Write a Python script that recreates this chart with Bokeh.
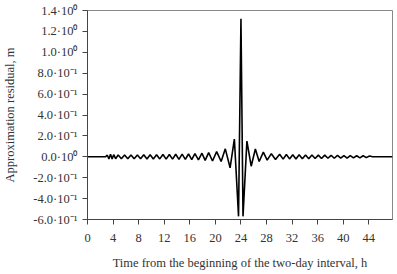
from bokeh.plotting import figure
from bokeh.models import FixedTicker, Range1d
from bokeh.embed import file_html
from bokeh.resources import INLINE

# Time (h) and approximation residual (m) (extrema of the curve)
time_h = [0, 2.8, 3.1, 3.35, 3.6, 3.85, 4.1, 4.4, 4.8, 5.3, 5.8, 6.3, 6.8, 7.3, 7.8, 8.3,
          8.8, 9.3, 9.8, 10.3, 10.8, 11.3, 11.8, 12.3, 12.8, 13.3, 13.8, 14.3, 14.8, 15.3,
          15.8, 16.3, 16.8, 17.35, 17.9, 18.4, 18.95, 19.55, 20.2, 20.9, 21.55, 22.3, 22.97,
          23.62, 24.0, 24.32, 24.93, 25.6, 26.25, 26.85, 27.5, 28.1, 28.75, 29.4, 30.05,
          30.6, 31.1, 31.6, 32.1, 32.6, 33.1, 33.6, 34.1, 34.6, 35.1, 35.6, 36.1, 36.6,
          37.1, 37.6, 38.1, 38.6, 39.1, 39.6, 40.1, 40.6, 41.1, 41.6, 42.1, 42.6, 43.1,
          43.6, 44.1, 44.6, 47.7]
resid_m = [0, 0, 0.015, -0.02, 0.025, -0.02, 0.02, -0.018, 0.018, -0.018, 0.018, -0.018,
           0.018, -0.018, 0.018, -0.018, 0.02, -0.02, 0.02, -0.02, 0.02, -0.02, 0.022,
           -0.022, 0.022, -0.022, 0.024, -0.024, 0.025, -0.025, 0.027, -0.027, 0.03, -0.03,
           0.034, -0.034, 0.04, -0.04, 0.05, -0.045, 0.076, -0.105, 0.17, -0.57, 1.32,
           -0.57, 0.15, -0.09, 0.075, -0.045, 0.045, -0.032, 0.03, -0.026, 0.025, -0.022,
           0.022, -0.02, 0.02, -0.02, 0.02, -0.018, 0.018, -0.018, 0.018, -0.016, 0.016,
           -0.016, 0.016, -0.014, 0.014, -0.014, 0.014, -0.012, 0.012, -0.012, 0.012,
           -0.01, 0.01, -0.01, 0.01, -0.008, 0.008, 0, 0]

x_ticks = [0, 4, 8, 12, 16, 20, 24, 28, 32, 36, 40, 44]
y_ticks = [-0.6, -0.4, -0.2, 0.0, 0.2, 0.4, 0.6, 0.8, 1.0, 1.2, 1.4]
y_labels = ["-6.0·10⁻¹", "-4.0·10⁻¹", "-2.0·10⁻¹", "0.0·10⁰", "2.0·10⁻¹", "4.0·10⁻¹",
            "6.0·10⁻¹", "8.0·10⁻¹", "1.0·10⁰", "1.2·10⁰", "1.4·10⁰"]

FONT = "Liberation Serif"

p = figure(width=394, height=272, output_backend="svg", toolbar_location=None,
           x_range=Range1d(0, 47.7), y_range=Range1d(-0.6, 1.4),
           min_border_left=87, min_border_right=2, min_border_top=10, min_border_bottom=52)

p.line(time_h, resid_m, line_color="black", line_width=1.6)

p.xgrid.visible = False
p.ygrid.visible = False
p.outline_line_color = "#888888"
p.outline_line_width = 1

for ax in (p.xaxis[0], p.yaxis[0]):
    ax.axis_line_color = "#444444"
    ax.major_tick_line_color = "#444444"
    ax.minor_tick_line_color = None
    ax.major_tick_in = 0
    ax.major_tick_out = 5
    ax.major_label_text_font = FONT
    ax.major_label_text_font_size = "12.5px"
    ax.major_label_text_color = "#333333"
    ax.axis_label_text_font = FONT
    ax.axis_label_text_font_size = "12.5px"
    ax.axis_label_text_font_style = "normal"
    ax.axis_label_text_color = "#333333"

p.xaxis.ticker = FixedTicker(ticks=x_ticks)
p.yaxis.ticker = FixedTicker(ticks=y_ticks)
p.yaxis.major_label_overrides = {t: l for t, l in zip(y_ticks, y_labels)}
p.xaxis.axis_label = "Time from the beginning of the two-day interval, h"
p.yaxis.axis_label = "Approximation residual, m"
p.xaxis.major_label_standoff = 9
p.yaxis.major_label_standoff = 5
p.xaxis.axis_label_standoff = 11
p.yaxis.axis_label_standoff = 13

open("out.html", "w").write(file_html(p, INLINE))
